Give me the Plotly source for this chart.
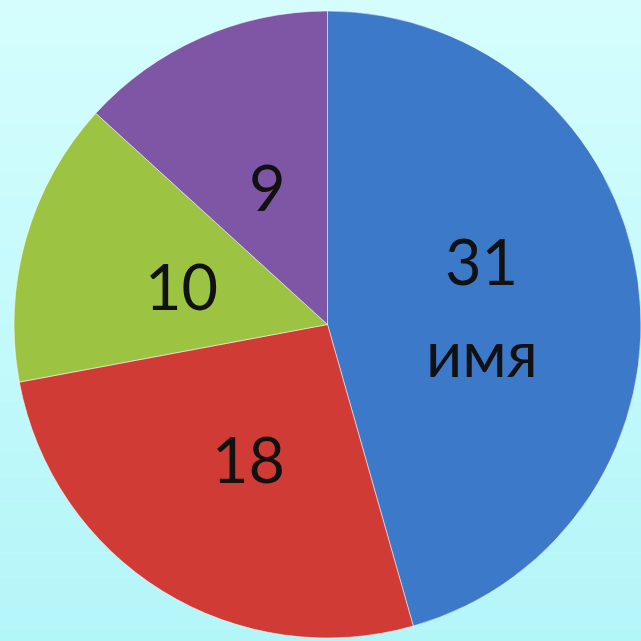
import math
import plotly.graph_objects as go

labels = ["имя", "B", "C", "D"]
values = [31, 18, 10, 9]
value_text = ["31", "18", "10", "9"]
name_text = ["имя", "", "", ""]
colors = ["#3C7AC9", "#D13B36", "#9DC342", "#7F56A5"]

W = H = 641
ML, MR, MT, MB = 14, 0, 8, 0

fig = go.Figure()
fig.add_trace(go.Pie(
    labels=labels,
    values=values,
    textinfo="none",
    sort=False,
    direction="clockwise",
    rotation=0,
    hoverinfo="skip",
    marker=dict(colors=colors, line=dict(color="rgba(255,255,255,0.5)", width=1)),
    showlegend=False,
))

# label placement: halfway out along each slice's mid-angle
pw, ph = W - ML - MR, H - MT - MB
R = min(pw, ph) / 2
cx, cy = ML + pw / 2, MT + ph / 2
total = sum(values)
cum = 0
font = dict(family="Lato, Carlito, sans-serif", size=63, color="#111111")
annotations = []
for v, vt, nt in zip(values, value_text, name_text):
    mid = (cum + v / 2) / total * 2 * math.pi
    cum += v
    px = cx + 0.49 * R * math.sin(mid) + 2
    py = cy - 0.49 * R * math.cos(mid) + 3
    xp = (px - ML) / pw
    yp = 1 - (py - MT) / ph
    if nt:
        annotations.append(dict(x=xp, y=yp, xref="paper", yref="paper", text=vt,
                                showarrow=False, font=font, yshift=46, xanchor="center", yanchor="middle"))
        annotations.append(dict(x=xp, y=yp, xref="paper", yref="paper", text=nt,
                                showarrow=False, font=font, yshift=-46, xanchor="center", yanchor="middle"))
    else:
        annotations.append(dict(x=xp, y=yp, xref="paper", yref="paper", text=vt,
                                showarrow=False, font=font, xanchor="center", yanchor="middle"))

# background gradient bands
n = 30
top = (216, 254, 254)
bot = (176, 245, 248)
shapes = []
for i in range(n):
    t = i / (n - 1)
    c = tuple(round(top[k] + (bot[k] - top[k]) * t) for k in range(3))
    shapes.append(dict(type="rect", xref="paper", yref="paper",
                       x0=-0.1, x1=1.1, y0=1.1 - (i + 1) * 1.2 / n, y1=1.1 - i * 1.2 / n,
                       fillcolor="rgb(%d,%d,%d)" % c, line=dict(width=0), layer="below"))

fig.update_layout(
    width=W, height=H,
    margin=dict(l=ML, r=MR, t=MT, b=MB),
    paper_bgcolor="rgb(200,250,251)",
    plot_bgcolor="rgba(0,0,0,0)",
    shapes=shapes,
    annotations=annotations,
)
fig.write_html("out.html", config={"displayModeBar": False})

with open("out.html", encoding="utf-8") as f:
    html = f.read()
html = html.replace("<head>", "<head><style>html,body{margin:0;padding:0;overflow:hidden;}</style>", 1)
with open("out.html", "w", encoding="utf-8") as f:
    f.write(html)
